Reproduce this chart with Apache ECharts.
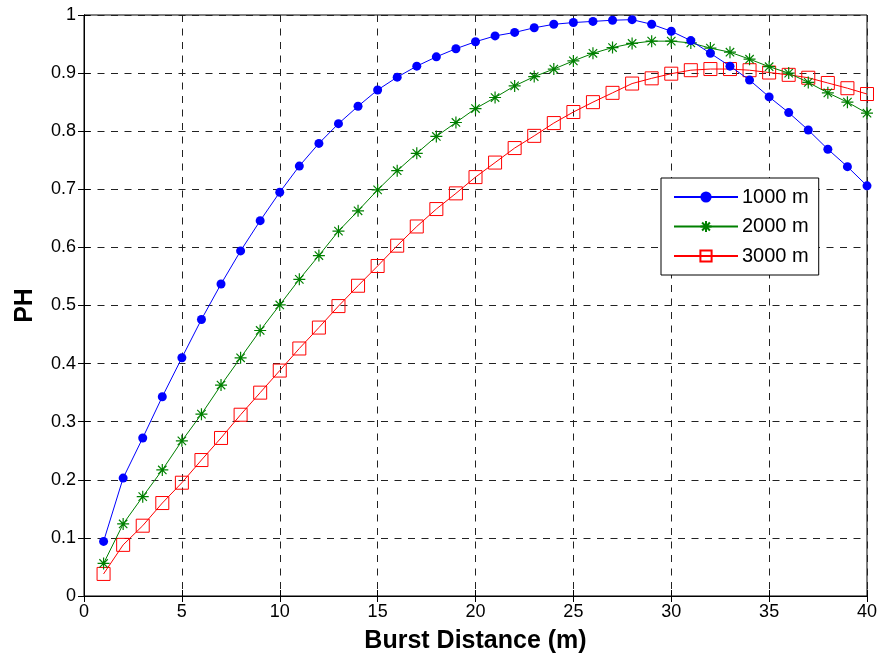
<!DOCTYPE html>
<html>
<head>
<meta charset="utf-8">
<script src="https://cdn.jsdelivr.net/npm/echarts@6/dist/echarts.min.js"></script>
<style>html,body{margin:0;padding:0;background:#fff;}#chart{width:881px;height:662px;}</style>
</head>
<body>
<div id="chart"></div>
<script>
var distances = [1,2,3,4,5,6,7,8,9,10,11,12,13,14,15,16,17,18,19,20,21,22,23,24,25,26,27,28,29,30,31,32,33,34,35,36,37,38,39,40];
var ph1000 = [0.094,0.203,0.272,0.343,0.410,0.476,0.537,0.594,0.646,0.695,0.740,0.779,0.813,0.843,0.871,0.893,0.912,0.928,0.942,0.954,0.964,0.970,0.978,0.984,0.987,0.989,0.991,0.992,0.984,0.972,0.956,0.934,0.912,0.888,0.859,0.832,0.802,0.769,0.739,0.706];
var ph2000 = [0.056,0.124,0.171,0.217,0.267,0.313,0.363,0.410,0.457,0.501,0.545,0.586,0.628,0.663,0.699,0.732,0.762,0.791,0.815,0.839,0.858,0.878,0.894,0.907,0.921,0.934,0.944,0.951,0.955,0.955,0.952,0.943,0.936,0.924,0.911,0.900,0.884,0.866,0.850,0.831];
var ph3000 = [0.038,0.088,0.121,0.160,0.195,0.234,0.272,0.312,0.350,0.388,0.426,0.462,0.499,0.534,0.568,0.603,0.636,0.666,0.693,0.721,0.746,0.771,0.792,0.814,0.833,0.850,0.866,0.882,0.891,0.899,0.905,0.907,0.907,0.905,0.901,0.897,0.892,0.883,0.874,0.864];
var seriesNames = ['1000 m','2000 m','3000 m'];
var yTickLabels = ['0','0.1','0.2','0.3','0.4','0.5','0.6','0.7','0.8','0.9','1'];
var xTickLabels = ['0','5','10','15','20','25','30','35','40'];

function pairs(ys){ return distances.map(function(x,i){ return [x, ys[i]]; }); }

var FONT = 'Arial, "Liberation Sans", Helvetica, sans-serif';
var chart = echarts.init(document.getElementById('chart'), null, {renderer:'canvas'});
var gridLine = {show:true, lineStyle:{color:'#222', type:[7,6.5], width:1}};
var star = 'path://M0,-10 L0,10 M-10,0 L10,0 M-7,-7 L7,7 M-7,7 L7,-7';
chart.setOption({
  animation:false,
  backgroundColor:'#fff',
  grid:{left:84, right:14, top:15, bottom:66, show:true, borderColor:'#000', borderWidth:1, backgroundColor:'transparent'},
  legend:{
    left:661, top:178, orient:'vertical',
    backgroundColor:'#fff', borderColor:'#000', borderWidth:1,
    padding:[8,10,8,12], itemWidth:64, itemHeight:14, itemGap:7.5,
    textStyle:{fontFamily:FONT, fontSize:20, color:'#000', lineHeight:22, padding:[0,0,0,-1]},
    data:seriesNames
  },
  xAxis:[{
    type:'value', min:0, max:40, interval:5,
    name:'Burst Distance (m)', nameLocation:'middle', nameGap:33,
    nameTextStyle:{fontFamily:FONT, fontSize:25, fontWeight:'bold', color:'#000'},
    axisLine:{show:true, lineStyle:{color:'#000', width:1}},
    axisTick:{show:true, inside:true, length:6, lineStyle:{color:'#000'}},
    axisLabel:{fontFamily:FONT, fontSize:18, color:'#000', margin:7,
      formatter:function(v){ return xTickLabels[Math.round(v/5)]; }},
    splitLine:gridLine
  },{
    type:'value', min:0, max:40, interval:5, position:'top',
    axisLine:{show:true, lineStyle:{color:'#000'}},
    axisTick:{show:true, inside:true, length:6, lineStyle:{color:'#000'}},
    axisLabel:{show:false}, splitLine:{show:false}
  }],
  yAxis:[{
    type:'value', min:0, max:1, interval:0.1,
    name:'PH', nameLocation:'middle', nameGap:46,
    nameTextStyle:{fontFamily:FONT, fontSize:25, fontWeight:'bold', color:'#000'},
    axisLine:{show:true, lineStyle:{color:'#000', width:1}},
    axisTick:{show:true, inside:true, length:6, lineStyle:{color:'#000'}},
    axisLabel:{fontFamily:FONT, fontSize:18, color:'#000', margin:8,
      formatter:function(v){ return yTickLabels[Math.round(v*10)]; }},
    splitLine:gridLine
  },{
    type:'value', min:0, max:1, interval:0.1, position:'right',
    axisLine:{show:true, lineStyle:{color:'#000'}},
    axisTick:{show:true, inside:true, length:6, lineStyle:{color:'#000'}},
    axisLabel:{show:false}, splitLine:{show:false}
  }],
  series:[
    {name:seriesNames[0], type:'line', data:pairs(ph1000), symbol:'circle', symbolSize:9,
      lineStyle:{color:'#0000ff', width:1}, itemStyle:{color:'#0000ff'}, z:3},
    {name:seriesNames[1], type:'line', data:pairs(ph2000), symbol:star, symbolSize:12,
      lineStyle:{color:'#008000', width:1}, itemStyle:{color:'#008000', borderColor:'#008000', borderWidth:1.2}, z:2},
    {name:seriesNames[2], type:'line', data:pairs(ph3000), symbol:'rect', symbolSize:13,
      lineStyle:{color:'#ff0000', width:1}, itemStyle:{color:'rgba(0,0,0,0)', borderColor:'#ff0000', borderWidth:1}, z:1}
  ]
});
</script>
</body>
</html>
